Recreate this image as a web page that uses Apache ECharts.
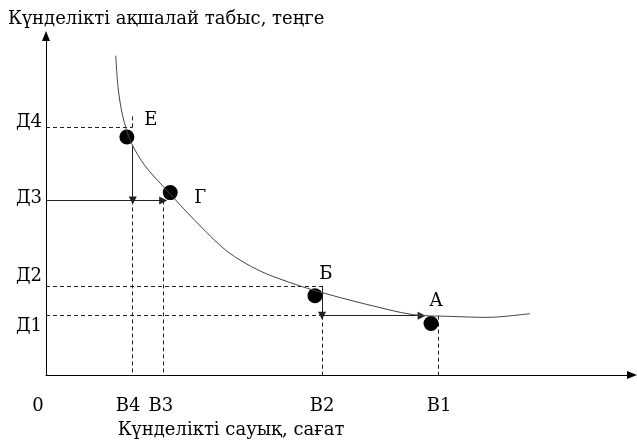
<!DOCTYPE html>
<html>
<head>
<meta charset="utf-8">
<script src="https://cdn.jsdelivr.net/npm/echarts@6/dist/echarts.min.js"></script>
<style>
html,body{margin:0;padding:0;background:#fff}
#chart{width:637px;height:444px}
</style>
</head>
<body>
<div id="chart"></div>
<script>
/* DATA: POINTS ON THE CURVE */
var pointNames = ['Е', 'Г', 'Б', 'А'];
var pointX = [13.8, 21.2, 45.9, 65.7];
var pointY = [70.2, 53.8, 23.4, 15.2];

/* DATA: INDIFFERENCE CURVE */
var curveX = [11.9, 12.3, 13.1, 14.5, 16.9, 20.5, 25.4, 30.9, 36.5, 43.3, 49.0, 54.8, 62.6, 68.9, 75.3, 82.6];
var curveY = [94.2, 84.8, 76.3, 68.7, 61.7, 54.7, 45.6, 36.5, 30.7, 26.3, 23.4, 20.8, 17.8, 17.3, 17.0, 18.1];

/* DATA: LEVELS (B = hours, Д = income) */
var bNames = ['B1', 'B2', 'B3', 'B4'];
var bValues = [66.9, 47.1, 20.0, 14.8];
var dNames = ['Д1', 'Д2', 'Д3', 'Д4'];
var dValues = [17.5, 26.3, 51.5, 73.1];

/* TICK LABELS */
var xTickNames = ['0', 'В4', 'В3', 'В2', 'В1'];
var xTickAt = [0, 14.0, 19.6, 47.1, 67.1];
var yTickNames = ['Д1', 'Д2', 'Д3', 'Д4'];
var yTickAt = [14.3, 29.2, 52.0, 74.6];

var B1 = bValues[0], B2 = bValues[1], B3 = bValues[2], B4 = bValues[3];
var D1 = dValues[0], D2 = dValues[1], D3 = dValues[2], D4 = dValues[3];

/* GUIDE SEGMENTS */
var dashedSegs = [
	[[0, D4], [B4, D4]],
	[[B4, 76.3], [B4, D4]],
	[[B4, D3], [B4, 0]],
	[[B3, D3], [B3, 0]],
	[[0, D2], [B2, D2]],
	[[B2, D1], [B2, 0]],
	[[0, D1], [B2, D1]],
	[[B1, D1], [B1, 0]]
];
var arrowSegs = [
	[[B4, 67.5], [B4, D3]],
	[[0, D3], [B3, D3]],
	[[B2, D2], [B2, D1]],
	[[B2, D1], [64.1, D1]]
];

var serif = 'DejaVu Serif';
var labelOffsets = [[24, -17], [30, 6], [11, -21], [5, -22]];

function nearestName(val, at, names){
	var best = 0;
	for (var i = 1; i < at.length; i++){
		if (Math.abs(at[i] - val) < Math.abs(at[best] - val)) best = i;
	}
	return names[best];
}

var myChart = echarts.init(document.getElementById('chart'));

myChart.setOption({
	animation: false,
	backgroundColor: '#fff',
	title: {
		text: 'Күнделікті ақшалай табыс, теңге',
		left: 8,
		top: 10,
		padding: 0,
		textStyle: {fontFamily: serif, fontSize: 18, fontWeight: 'normal', color: '#000'}
	},
	grid: {left: 46, right: 5, top: 36, bottom: 66},
	xAxis: {
		type: 'value',
		min: 0,
		max: 100,
		name: 'Күнделікті сауық, сағат',
		nameLocation: 'middle',
		nameGap: 46,
		nameTextStyle: {fontFamily: serif, fontSize: 18, color: '#000', padding: [0, 216, 0, 0]},
		axisLine: {symbol: ['none', 'triangle'], symbolSize: [8, 10], lineStyle: {color: '#000', width: 1}},
		axisTick: {show: false},
		splitLine: {show: false},
		axisLabel: {
			customValues: xTickAt,
			margin: 22,
			fontFamily: serif,
			fontSize: 18,
			color: '#000',
			formatter: function(v){
				var n = nearestName(v, xTickAt, xTickNames);
				return n === '0' ? '{z|0}' : n;
			},
			rich: {z: {fontFamily: serif, fontSize: 18, color: '#000', padding: [0, 16, 0, 0]}}
		}
	},
	yAxis: {
		type: 'value',
		min: 0,
		max: 100,
		axisLine: {symbol: ['none', 'triangle'], symbolSize: [8, 10], lineStyle: {color: '#000', width: 1}},
		axisTick: {show: false},
		splitLine: {show: false},
		axisLabel: {
			customValues: yTickAt,
			margin: 4,
			fontFamily: serif,
			fontSize: 18,
			color: '#000',
			formatter: function(v){ return nearestName(v, yTickAt, yTickNames); }
		}
	},
	series: [
		{
			type: 'lines',
			coordinateSystem: 'cartesian2d',
			symbol: ['none', 'none'],
			lineStyle: {color: '#222', width: 1, type: [4, 3], opacity: 1},
			data: dashedSegs.map(function(s){ return {coords: s}; }),
			silent: true
		},
		{
			type: 'lines',
			coordinateSystem: 'cartesian2d',
			symbol: ['none', 'triangle'],
			symbolSize: 8,
			lineStyle: {color: '#222', width: 1, type: 'solid', opacity: 1},
			data: arrowSegs.map(function(s){ return {coords: s}; }),
			silent: true
		},
		{
			type: 'line',
			smooth: 0.3,
			showSymbol: false,
			lineStyle: {color: '#444', width: 1},
			data: curveX.map(function(x, i){ return [x, curveY[i]]; }),
			silent: true
		},
		{
			type: 'scatter',
			symbolSize: 15,
			itemStyle: {color: '#000', opacity: 1},
			data: pointNames.map(function(n, i){
				return {
					name: n,
					value: [pointX[i], pointY[i]],
					label: {
						show: true,
						formatter: n,
						position: 'inside',
						offset: labelOffsets[i],
						fontFamily: serif,
						fontSize: 18,
						color: '#000'
					}
				};
			})
		}
	]
});
</script>
</body>
</html>
